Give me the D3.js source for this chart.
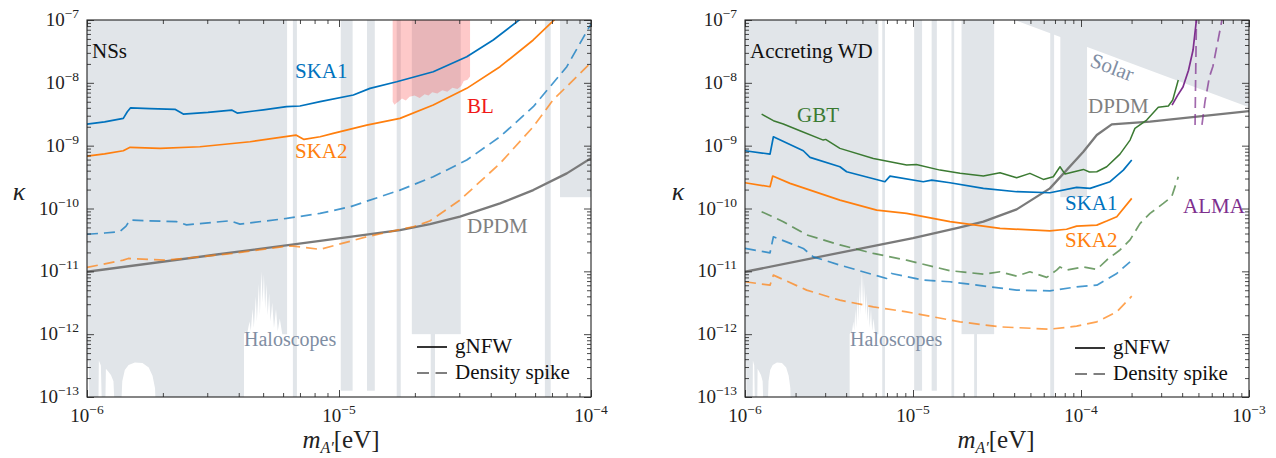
<!DOCTYPE html>
<html><head><meta charset="utf-8">
<script src="https://cdn.jsdelivr.net/npm/d3@7"></script>
<style>body{margin:0;background:#fff} svg{display:block}</style>
</head><body><svg id="c" width="1276" height="458"></svg>
<script>
// ---------- DATA (log10 m [eV], log10 kappa) ----------
const yMajors = [-13,-12,-11,-10,-9,-8,-7];
const xMajorsNS = [-6,-5,-4];
const xMajorsWD = [-6,-5,-4,-3];

const haloMainEdge = [[-6.0,-13.3],[-5.998,-13.3],[-5.997,-12.4],[-5.993,-12.45],[-5.99,-13.3],[-5.955,-13.3],[-5.953,-12.42],[-5.945,-12.5],[-5.94,-13.3],
 [-5.928,-13.3],[-5.925,-12.55],[-5.915,-12.6],[-5.905,-12.65],[-5.895,-12.75],[-5.889,-13.3],[-5.866,-13.3],[-5.86,-12.75],[-5.85,-12.57],[-5.835,-12.49],
 [-5.81,-12.45],[-5.78,-12.46],[-5.755,-12.53],[-5.74,-12.66],[-5.73,-12.86],[-5.726,-13.3],[-5.377,-13.3],[-5.377,-12.0],[-5.37,-11.95],[-5.365,-12.0],
 [-5.355,-11.8],[-5.35,-11.95],[-5.343,-11.6],[-5.338,-11.9],[-5.33,-11.4],[-5.326,-11.8],[-5.318,-11.2],[-5.314,-11.7],[-5.308,-11.0],[-5.303,-11.5],
 [-5.298,-11.05],[-5.293,-11.6],[-5.288,-11.2],[-5.283,-11.7],[-5.277,-11.35],[-5.272,-11.8],[-5.265,-11.5],[-5.258,-11.9],[-5.25,-11.6],[-5.243,-11.95],
 [-5.235,-11.75],[-5.225,-12.0],[-5.206,-12.0]];
const haloStrips = [[-5.183,-5.167,-13.3],[-4.993,-4.946,-12.9],[-4.889,-4.858,-12.9],[-4.771,-4.755,-13.3],[-4.711,-4.517,-12.0],[-4.636,-4.619,-13.3],[-4.183,-4.160,-13.3],[-4.123,-3.964,-9.82]];
const solarEdge = [[-4.393,-7.0],[-3.0,-8.39]];
const blEdge = [[-4.787,-8.3],[-4.78,-8.35],[-4.772,-8.32],[-4.765,-8.3],[-4.75,-8.25],[-4.735,-8.28],[-4.72,-8.22],[-4.70,-8.2],[-4.68,-8.24],[-4.66,-8.18],[-4.645,-8.2],
 [-4.63,-8.15],[-4.61,-8.17],[-4.59,-8.12],[-4.57,-8.14],[-4.55,-8.08],[-4.53,-8.1],[-4.515,-8.05],[-4.505,-7.97],[-4.49,-7.95],[-4.48,-7.9]];

const nsSKA1 = [[-6.0,-8.656],[-5.93,-8.62],[-5.856,-8.565],[-5.84,-8.46],[-5.827,-8.397],[-5.75,-8.41],[-5.651,-8.422],[-5.618,-8.497],[-5.52,-8.47],[-5.426,-8.433],[-5.404,-8.481],[-5.30,-8.43],[-5.208,-8.38],[-5.155,-8.369],[-5.075,-8.30],[-4.943,-8.194],[-4.877,-8.088],[-4.771,-7.982],[-4.626,-7.823],[-4.493,-7.584],[-4.388,-7.318],[-4.288,-7.01],[-4.27,-6.95]];
const nsSKA2 = [[-6.0,-9.166],[-5.93,-9.13],[-5.856,-9.081],[-5.829,-9.027],[-5.71,-9.043],[-5.552,-9.017],[-5.353,-8.938],[-5.171,-8.831],[-5.139,-8.90],[-5.075,-8.858],[-5.023,-8.805],[-4.89,-8.672],[-4.758,-8.566],[-4.626,-8.354],[-4.493,-8.088],[-4.361,-7.743],[-4.229,-7.318],[-4.149,-7.01],[-4.14,-6.97]];
const nsSKA1spike = [[-6.0,-10.41],[-5.93,-10.39],[-5.87,-10.37],[-5.845,-10.28],[-5.83,-10.185],[-5.644,-10.21],[-5.605,-10.26],[-5.433,-10.196],[-5.393,-10.248],[-5.208,-10.158],[-5.075,-10.078],[-4.956,-9.973],[-4.758,-9.707],[-4.626,-9.495],[-4.493,-9.229],[-4.361,-8.858],[-4.229,-8.38],[-4.096,-7.743],[-4.01,-7.133],[-3.99,-7.0]];
const nsSKA2spike = [[-6.0,-10.938],[-5.856,-10.822],[-5.836,-10.795],[-5.684,-10.822],[-5.42,-10.715],[-5.208,-10.599],[-5.18,-10.60],[-5.075,-10.65],[-4.89,-10.45],[-4.705,-10.29],[-4.64,-10.2],[-4.52,-9.866],[-4.361,-9.282],[-4.229,-8.699],[-4.15,-8.27],[-4.01,-7.717],[-3.99,-7.62]];
const nsDPDM = [[-6.0,-11.007],[-5.5,-10.74],[-5.075,-10.514],[-4.758,-10.344],[-4.639,-10.25],[-4.52,-10.13],[-4.361,-9.919],[-4.229,-9.707],[-4.096,-9.441],[-4.0,-9.2]];

const wdGBT = [[-5.901,-8.497],[-5.831,-8.603],[-5.772,-8.656],[-5.673,-8.762],[-5.534,-8.911],[-5.52,-8.90],[-5.435,-9.043],[-5.236,-9.203],[-5.038,-9.309],[-4.98,-9.30],[-4.839,-9.389],[-4.72,-9.44],[-4.581,-9.484],[-4.482,-9.431],[-4.383,-9.511],[-4.304,-9.441],[-4.224,-9.537],[-4.165,-9.495],[-4.125,-9.335],[-4.095,-9.452],[-3.986,-9.378],[-3.95,-9.42],[-3.906,-9.415],[-3.847,-9.335],[-3.768,-9.134],[-3.708,-8.911],[-3.679,-8.725],[-3.609,-8.592],[-3.54,-8.39],[-3.48,-8.369],[-3.454,-8.274],[-3.421,-7.955]];
const wdSKA1 = [[-6.0,-9.081],[-5.851,-9.134],[-5.831,-8.858],[-5.653,-9.081],[-5.613,-9.187],[-5.435,-9.335],[-5.395,-9.415],[-5.167,-9.574],[-5.137,-9.484],[-4.939,-9.574],[-4.889,-9.548],[-4.78,-9.59],[-4.581,-9.68],[-4.383,-9.733],[-4.185,-9.749],[-4.026,-9.665],[-3.946,-9.68],[-3.827,-9.574],[-3.748,-9.389],[-3.698,-9.229]];
const wdSKA2 = [[-6.0,-9.59],[-5.851,-9.654],[-5.835,-9.484],[-5.732,-9.6],[-5.435,-9.866],[-5.216,-10.025],[-5.038,-10.078],[-4.78,-10.21],[-4.482,-10.317],[-4.185,-10.355],[-4.086,-10.33],[-4.026,-10.28],[-3.906,-10.264],[-3.847,-10.2],[-3.787,-10.13],[-3.698,-9.839]];
const wdDPDM = [[-6.0,-11.007],[-5.0,-10.47],[-4.72,-10.30],[-4.581,-10.21],[-4.383,-10.014],[-4.185,-9.68],[-3.986,-9.097],[-3.906,-8.831],[-3.817,-8.661],[-3.589,-8.619],[-3.0,-8.449]];
const wdALMA = [[-3.458,-8.354],[-3.425,-8.2],[-3.393,-8.067],[-3.36,-7.8],[-3.333,-7.478],[-3.313,-7.0]];
const wdGBTspike = [[-5.901,-10.052],[-5.772,-10.21],[-5.633,-10.42],[-5.435,-10.58],[-5.236,-10.715],[-5.038,-10.822],[-4.78,-10.99],[-4.581,-11.045],[-4.482,-11.007],[-4.383,-11.076],[-4.304,-11.007],[-4.204,-11.097],[-4.145,-10.98],[-4.125,-10.93],[-4.086,-10.98],[-3.986,-10.93],[-3.906,-10.97],[-3.847,-10.82],[-3.768,-10.66],[-3.708,-10.5],[-3.649,-10.24],[-3.589,-10.078],[-3.51,-9.919],[-3.46,-9.813],[-3.421,-9.495]];
const wdSKA1spike = [[-6.0,-10.636],[-5.851,-10.705],[-5.831,-10.45],[-5.653,-10.636],[-5.593,-10.769],[-5.435,-10.901],[-5.157,-11.114],[-5.127,-11.034],[-4.939,-11.14],[-4.78,-11.166],[-4.383,-11.299],[-4.185,-11.311],[-4.026,-11.247],[-3.906,-11.22],[-3.787,-11.034],[-3.708,-10.849]];
const wdSKA2spike = [[-6.0,-11.166],[-5.851,-11.22],[-5.831,-11.06],[-5.633,-11.299],[-5.435,-11.459],[-5.236,-11.566],[-5.038,-11.645],[-4.72,-11.804],[-4.482,-11.884],[-4.185,-11.92],[-4.026,-11.873],[-3.906,-11.804],[-3.787,-11.645],[-3.698,-11.395]];
const wdALMAspikeA = [[-3.321,-8.67],[-3.318,-8.0],[-3.313,-7.0],[-3.312,-6.95]];
const wdALMAspikeB = [[-3.28,-8.67],[-3.262,-8.3],[-3.235,-7.9],[-3.215,-7.74],[-3.19,-7.4],[-3.161,-7.0],[-3.158,-6.95]];

// ---------- DRAWING ----------
const svg = d3.select("#c");
const FONT = "'Liberation Serif'";
const GREY = "#e1e5e9", BLUE = "#0072bd", ORANGE = "#ff7f0e", GREENC = "#3b7a32", PURPLE = "#7e2f8e", DGREY = "#7a7a7a";
const Y0 = 20, Y1 = 397;

function txt(g){ return g.append("text").style("font-family",FONT); }

function panel(o){
  const g = svg.append("g");
  const x = d3.scaleLog().domain([Math.pow(10,o.xm[0]), Math.pow(10,o.xm[o.xm.length-1])]).range(o.xr);
  const y = d3.scaleLog().domain([1e-13,1e-7]).range([Y1,Y0]);
  const P = d => [x(Math.pow(10,d[0])), y(Math.pow(10,d[1]))];
  const line = d3.line().x(d=>P(d)[0]).y(d=>P(d)[1]);
  svg.append("clipPath").attr("id",o.id).append("rect").attr("x",o.xr[0]).attr("y",Y0).attr("width",o.xr[1]-o.xr[0]).attr("height",Y1-Y0);
  const c = g.append("g").attr("clip-path",`url(#${o.id})`);
  c.append("path").attr("d", line([[-6.0,-6.5],...haloMainEdge,[-5.206,-6.5]])+"Z").attr("fill",GREY);
  haloStrips.forEach(s=>{
    const xa = x(Math.pow(10,s[0])), xb = x(Math.pow(10,s[1]));
    c.append("rect").attr("x",xa).attr("width",xb-xa).attr("y",0).attr("height",y(Math.pow(10,s[2]))).attr("fill",GREY);
  });
  if(o.solar){
    const a = solarEdge[0], b = solarEdge[1];
    c.append("path").attr("d", line([[a[0],-6.5],a,b,[b[0],-6.5]])+"Z").attr("fill",GREY);
  }
  if(o.bl){
    c.append("path").attr("d", line([[blEdge[0][0],-6.5],...blEdge,[blEdge[blEdge.length-1][0],-6.5]])+"Z").attr("fill","rgba(250,60,60,0.28)");
  }
  o.curves.forEach(cv=>{
    const p = c.append("path").attr("d",line(cv.d)).attr("fill","none").attr("stroke",cv.c).attr("stroke-width",cv.w||1.7).attr("stroke-linejoin","round");
    if(cv.dash){ p.attr("stroke-dasharray","11,6").attr("stroke-opacity",0.72); }
  });
  const minors = [];
  for(let e=o.xm[0]; e<o.xm[o.xm.length-1]; e++) for(let k=2;k<10;k++) minors.push(k*Math.pow(10,e));
  const yMin = [];
  for(let e=-13; e<-7; e++) for(let k=2;k<10;k++) yMin.push(k*Math.pow(10,e));
  const xMaj = o.xm.map(e=>Math.pow(10,e)), yMaj = yMajors.map(e=>Math.pow(10,e));
  const ax = (gen, vals, len, tr) => {
    const a = g.append("g").attr("transform",tr).call(gen.tickValues(vals).tickSizeInner(-len).tickSizeOuter(0).tickFormat(""));
    a.select(".domain").remove();
    a.selectAll("line").attr("stroke","#333").attr("stroke-width",0.9);
  };
  ax(d3.axisBottom(x), xMaj, 7, `translate(0,${Y1})`);
  ax(d3.axisBottom(x), minors, 4, `translate(0,${Y1})`);
  ax(d3.axisTop(x), xMaj, 7, `translate(0,${Y0})`);
  ax(d3.axisTop(x), minors, 4, `translate(0,${Y0})`);
  ax(d3.axisLeft(y), yMaj, 7, `translate(${o.xr[0]},0)`);
  ax(d3.axisLeft(y), yMin, 4, `translate(${o.xr[0]},0)`);
  ax(d3.axisRight(y), yMaj, 7, `translate(${o.xr[1]},0)`);
  ax(d3.axisRight(y), yMin, 4, `translate(${o.xr[1]},0)`);
  g.append("rect").attr("x",o.xr[0]).attr("y",Y0).attr("width",o.xr[1]-o.xr[0]).attr("height",Y1-Y0).attr("fill","none").attr("stroke","#222").attr("stroke-width",1.1);
  yMajors.forEach(e=>{
    const t = txt(g).attr("x",o.xr[0]-8).attr("y",y(Math.pow(10,e))+6).attr("text-anchor","end").attr("font-size",19).attr("fill","#222");
    t.append("tspan").text("10");
    t.append("tspan").attr("dy",-8).attr("font-size",13.5).text("\u2212"+(-e));
  });
  o.xm.forEach(e=>{
    const t = txt(g).attr("x",x(Math.pow(10,e))).attr("y",Y1+25).attr("text-anchor","middle").attr("font-size",19).attr("fill","#222");
    t.append("tspan").text("10");
    t.append("tspan").attr("dy",-8).attr("font-size",13.5).text("\u2212"+(-e));
  });
  txt(g).attr("x",o.kx).attr("y",200).attr("text-anchor","middle").attr("font-size",26).attr("font-style","italic").attr("fill","#222").text("\u03ba");
  const xt = txt(g).attr("x",o.mx).attr("y",448).attr("text-anchor","middle").attr("font-size",25).attr("fill","#222");
  xt.append("tspan").attr("font-style","italic").text("m");
  xt.append("tspan").attr("font-style","italic").attr("font-size",16).attr("dy",5).text("A\u2032");
  xt.append("tspan").attr("dy",-5).text("[eV]");
  o.labels.forEach(l=>{
    const t = txt(g).attr("x",l.x).attr("y",l.y).attr("font-size",l.s||21).attr("fill",l.c).text(l.t);
    if(l.r) t.attr("transform",`rotate(${l.r},${l.x},${l.y})`);
  });
  const lg = o.legend;
  g.append("line").attr("x1",lg.x).attr("x2",lg.x+30).attr("y1",lg.y).attr("y2",lg.y).attr("stroke","#111").attr("stroke-width",1.7);
  g.append("line").attr("x1",lg.x).attr("x2",lg.x+30).attr("y1",lg.y+26).attr("y2",lg.y+26).attr("stroke","#555").attr("stroke-width",1.7).attr("stroke-dasharray","12,6.5");
  txt(g).attr("x",lg.x+38).attr("y",lg.y+6).attr("font-size",21).attr("fill","#111").text("gNFW");
  txt(g).attr("x",lg.x+38).attr("y",lg.y+32).attr("font-size",21).attr("fill","#111").text("Density spike");
}

panel({id:"cl", xm:xMajorsNS, xr:[87,591], kx:19, mx:341, bl:true, solar:false,
  curves:[
    {d:nsDPDM,c:DGREY,w:2.3},
    {d:nsSKA1spike,c:BLUE,dash:true},{d:nsSKA2spike,c:ORANGE,dash:true},
    {d:nsSKA1,c:BLUE},{d:nsSKA2,c:ORANGE}
  ],
  labels:[
    {t:"NSs",x:92,y:58,c:"#111"},
    {t:"SKA1",x:295,y:78,c:BLUE},{t:"SKA2",x:295,y:158,c:ORANGE},
    {t:"BL",x:467,y:113,c:"#f01818"},{t:"DPDM",x:467,y:233,c:"#808080"},
    {t:"Haloscopes",x:244,y:346,c:"#7f8ea3",s:20}
  ],
  legend:{x:417,y:347}
});
panel({id:"cr", xm:xMajorsWD, xr:[745,1249], kx:678, mx:996, bl:false, solar:true,
  curves:[
    {d:wdDPDM,c:DGREY,w:2.3},
    {d:wdGBTspike,c:GREENC,dash:true},{d:wdSKA1spike,c:BLUE,dash:true},{d:wdSKA2spike,c:ORANGE,dash:true},
    {d:wdALMAspikeA,c:PURPLE,dash:true},{d:wdALMAspikeB,c:PURPLE,dash:true},
    {d:wdGBT,c:GREENC,w:1.5},{d:wdSKA1,c:BLUE},{d:wdSKA2,c:ORANGE},{d:wdALMA,c:PURPLE}
  ],
  labels:[
    {t:"Accreting WD",x:750,y:58,c:"#111"},
    {t:"GBT",x:797,y:122,c:GREENC},{t:"SKA1",x:1065,y:210,c:BLUE},{t:"SKA2",x:1065,y:247,c:ORANGE},
    {t:"DPDM",x:1088,y:113,c:"#808080"},{t:"ALMA",x:1183,y:213,c:PURPLE},
    {t:"Solar",x:1089,y:66,c:"#7f8ea3",r:20.4},
    {t:"Haloscopes",x:850,y:346,c:"#7f8ea3",s:20}
  ],
  legend:{x:1075,y:348}
});
</script></body></html>
